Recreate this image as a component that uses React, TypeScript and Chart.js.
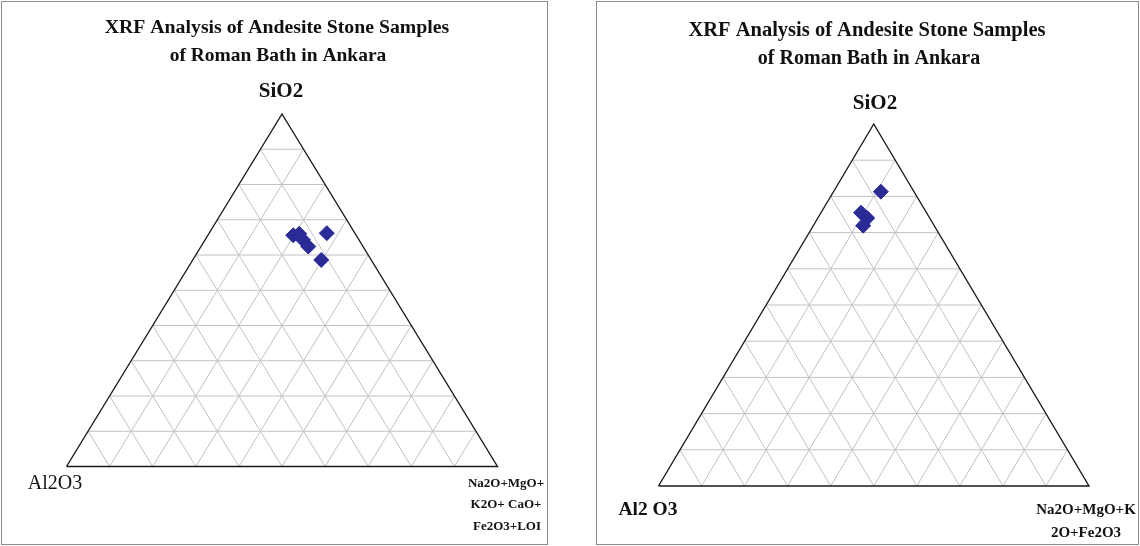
import React, { useEffect, useRef } from "react";
import { Chart, registerables } from "chart.js";

Chart.register(...registerables);

// ---- data ----
const gridTicks = [10, 20, 30, 40, 50, 60, 70, 80, 90];

const leftSiO2 = [65.6, 66.0, 64.3, 62.4, 66.2, 58.6];
const leftAl2O3 = [14.6, 13.0, 13.0, 12.7, 6.5, 11.6];
const leftOthers = [19.8, 21.0, 22.7, 24.9, 27.3, 29.8];

const rightSiO2 = [81.3, 75.5, 74.0, 71.9];
const rightAl2O3 = [7.7, 15.2, 14.5, 16.5];
const rightOthers = [11.0, 9.3, 11.5, 11.6];

const titleLines = ["XRF Analysis of Andesite Stone Samples", "of Roman Bath in Ankara"];
const leftTopLabel = "SiO2";
const leftLeftLabel = "Al2O3";
const leftRightLabel = ["Na2O+MgO+", "K2O+ CaO+", "Fe2O3+LOI"];
const rightTopLabel = "SiO2";
const rightLeftLabel = "Al2 O3";
const rightRightLabel = ["Na2O+MgO+K", "2O+Fe2O3"];

// ---- helpers ----
const toXY = (si: number, al: number, ot: number) => {
  const t = si + al + ot;
  const a = si / t;
  const c = ot / t;
  return { x: c + a / 2, y: a };
};

const GAP = { x: NaN, y: NaN };

const gridData = () => {
  const pts: { x: number; y: number }[] = [];
  gridTicks.forEach((v) => {
    const t = v / 100;
    // constant SiO2
    pts.push({ x: t / 2, y: t }, { x: 1 - t / 2, y: t }, GAP);
    // constant others
    pts.push({ x: t, y: 0 }, { x: (1 + t) / 2, y: 1 - t }, GAP);
    // constant Al2O3
    pts.push({ x: 1 - t, y: 0 }, { x: (1 - t) / 2, y: 1 - t }, GAP);
  });
  return pts;
};

const outlineData = [
  { x: 0, y: 0 },
  { x: 1, y: 0 },
  { x: 0.5, y: 1 },
  { x: 0, y: 0 },
];

type TextItem = { text: string; x: number; y: number; font: string };

type PanelSpec = {
  si: number[];
  al: number[];
  ot: number[];
  padding: { left: number; right: number; top: number; bottom: number };
  texts: TextItem[];
};

const SERIF = "'Liberation Serif', 'Times New Roman', serif";

const textPlugin = {
  id: "ternaryTexts",
  afterDraw(chart: any, _args: any, opts: any) {
    const ctx = chart.ctx;
    ctx.save();
    ctx.fillStyle = "#111";
    ctx.textAlign = "center";
    ctx.textBaseline = "middle";
    (opts.items || []).forEach((it: TextItem) => {
      ctx.font = it.font;
      ctx.fillText(it.text, it.x, it.y);
    });
    ctx.restore();
  },
};

function TernaryPanel({ spec, left }: { spec: PanelSpec; left: number }) {
  const ref = useRef<HTMLCanvasElement | null>(null);
  useEffect(() => {
    if (!ref.current) return;
    const points = spec.si.map((s, i) => toXY(s, spec.al[i], spec.ot[i]));
    const chart = new Chart(ref.current, {
      type: "scatter",
      data: {
        datasets: [
          {
            data: points,
            pointStyle: "rectRot",
            pointRadius: 7.5,
            pointBackgroundColor: "#2b2b98",
            pointBorderColor: "#2b2b98",
            pointBorderWidth: 1,
            showLine: false,
            order: 0,
            clip: false,
          } as any,
          {
            type: "line",
            data: outlineData,
            borderColor: "#1a1a1a",
            borderWidth: 1.4,
            pointRadius: 0,
            fill: false,
            tension: 0,
            borderJoinStyle: "miter",
            order: 1,
            clip: false,
          } as any,
          {
            type: "line",
            data: gridData(),
            borderColor: "#c2c2c2",
            borderWidth: 1,
            pointRadius: 0,
            fill: false,
            spanGaps: false,
            tension: 0,
            order: 2,
            clip: false,
          } as any,
        ],
      },
      options: {
        animation: false,
        responsive: false,
        maintainAspectRatio: false,
        layout: { padding: spec.padding },
        scales: {
          x: { type: "linear", min: 0, max: 1, display: false },
          y: { type: "linear", min: 0, max: 1, display: false },
        },
        plugins: {
          legend: { display: false },
          tooltip: { enabled: false },
          ternaryTexts: { items: spec.texts },
        } as any,
        events: [],
      },
      plugins: [textPlugin],
    });
    return () => chart.destroy();
  }, []);
  return (
    <canvas
      ref={ref}
      width={570}
      height={546}
      style={{ position: "absolute", left, top: 0, width: 570, height: 546 }}
    />
  );
}

const bold = (px: number) => `bold ${px}px ${SERIF}`;

const leftSpec: PanelSpec = {
  si: leftSiO2,
  al: leftAl2O3,
  ot: leftOthers,
  padding: { left: 66.5, right: 72.5, top: 114, bottom: 79.5 },
  texts: [
    { text: titleLines[0], x: 277, y: 28, font: bold(19.8) },
    { text: titleLines[1], x: 278, y: 56, font: bold(19.5) },
    { text: leftTopLabel, x: 281, y: 92, font: bold(21) },
    { text: leftLeftLabel, x: 55, y: 484, font: `${20}px ${SERIF}` },
    { text: leftRightLabel[0], x: 506, y: 484, font: bold(13) },
    { text: leftRightLabel[1], x: 506, y: 505, font: bold(13) },
    { text: leftRightLabel[2], x: 507, y: 527, font: bold(13) },
  ],
};

const rightSpec: PanelSpec = {
  si: rightSiO2,
  al: rightAl2O3,
  ot: rightOthers,
  padding: { left: 88.5, right: 51, top: 124, bottom: 60 },
  texts: [
    { text: titleLines[0], x: 297, y: 31, font: bold(20.5) },
    { text: titleLines[1], x: 299, y: 59, font: bold(20) },
    { text: rightTopLabel, x: 305, y: 104, font: bold(21) },
    { text: rightLeftLabel, x: 78, y: 510, font: bold(19.5) },
    { text: rightRightLabel[0], x: 516, y: 510, font: bold(15) },
    { text: rightRightLabel[1], x: 516, y: 533, font: bold(15) },
  ],
};

export default function App() {
  return (
    <div
      style={{
        position: "fixed",
        left: 0,
        top: 0,
        width: 1140,
        height: 546,
        background: "#fff",
        overflow: "hidden",
      }}
    >
      <div
        style={{
          position: "absolute",
          left: 1,
          top: 1,
          width: 547,
          height: 544,
          boxSizing: "border-box",
          border: "1px solid #8a8a8a",
        }}
      />
      <div
        style={{
          position: "absolute",
          left: 596,
          top: 1,
          width: 543,
          height: 544,
          boxSizing: "border-box",
          border: "1px solid #8a8a8a",
        }}
      />
      <TernaryPanel spec={leftSpec} left={0} />
      <TernaryPanel spec={rightSpec} left={570} />
    </div>
  );
}
